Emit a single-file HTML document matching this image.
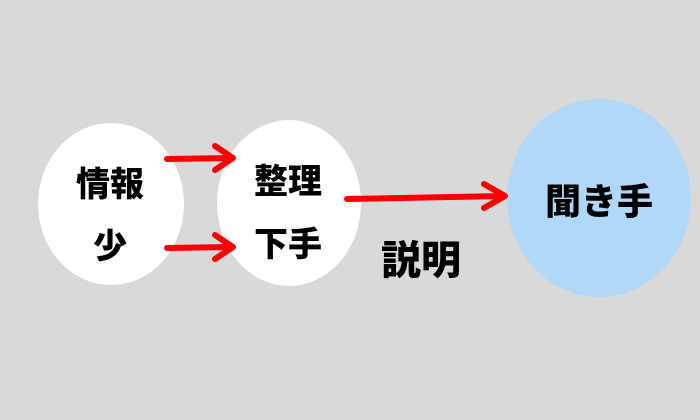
<!DOCTYPE html>
<html><head><meta charset="utf-8"><style>
html,body{margin:0;padding:0;background:#d9d9d9;}
svg{display:block}
text{font-family:"Liberation Sans","Noto Sans CJK JP",sans-serif;font-weight:900;fill:#000;}
</style></head><body>
<svg width="700" height="420" viewBox="0 0 700 420" xmlns="http://www.w3.org/2000/svg">
<rect width="700" height="420" fill="#d9d9d9"/>
<ellipse cx="111" cy="204" rx="73" ry="81" fill="#fff"/>
<ellipse cx="289" cy="203" rx="72" ry="83" fill="#fff"/>
<ellipse cx="599" cy="198" rx="92" ry="99" fill="#b0d8f8"/>
<g stroke="#f00" stroke-width="6" fill="none" stroke-linecap="round" stroke-linejoin="round">
<line x1="167" y1="159" x2="232" y2="158"/>
<polyline points="215,146 233,158 215,170"/>
<line x1="167" y1="248" x2="232" y2="247"/>
<polyline points="215,235 233,247 215,259"/>
<line x1="347" y1="199" x2="504" y2="196"/>
<polyline points="484,184 505,196 484,208"/>
</g>
<text x="110" y="196" font-size="34" text-anchor="middle">情報</text>
<text x="110" y="258" font-size="34" text-anchor="middle">少</text>
<text x="288" y="193" font-size="34" text-anchor="middle">整理</text>
<text x="288" y="256" font-size="34" text-anchor="middle">下手</text>
<text x="421" y="274" font-size="40" text-anchor="middle">説明</text>
<text x="599" y="214" font-size="36" text-anchor="middle">聞き手</text>
</svg>
</body></html>
